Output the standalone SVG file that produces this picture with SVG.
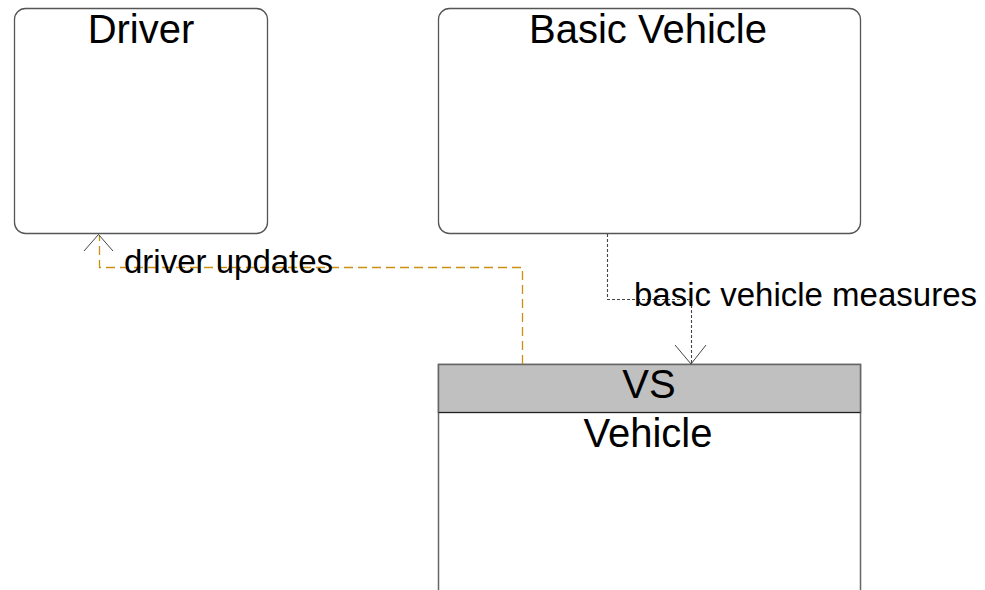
<svg xmlns="http://www.w3.org/2000/svg" width="985" height="590" viewBox="0 0 985 590">
<style>
.box{fill:#fff;stroke:#555;stroke-width:1.3}
.title{font-family:"Liberation Sans",Arial,sans-serif;font-size:40px;fill:#000;text-anchor:middle}
.lbl{font-family:"Liberation Sans",Arial,sans-serif;font-size:33px;fill:#000}
.c1{fill:none;stroke:#cc9010;stroke-width:1.3;stroke-dasharray:9,5}
.c2{fill:none;stroke:#444;stroke-width:1.1;stroke-dasharray:3,2}
.ah{fill:none;stroke:#444;stroke-width:1}
</style>
<rect width="985" height="590" fill="#fff"/>
<g id="driver">
<rect class="box" x="14.5" y="8.5" width="253" height="225" rx="11" ry="11"/>
<text class="title" x="141" y="43">Driver</text>
</g>
<g id="basic-vehicle">
<rect class="box" x="438.5" y="8.5" width="422" height="225" rx="11" ry="11"/>
<text class="title" x="648" y="43">Basic Vehicle</text>
</g>
<g id="vs-vehicle">
<rect x="438.5" y="364.5" width="422" height="240" fill="#fff" stroke="#666" stroke-width="1.5"/>
<rect x="438.5" y="364.5" width="422" height="48" fill="#c0c0c0" stroke="#666" stroke-width="1.5"/>
<line x1="438.5" y1="412.5" x2="860.5" y2="412.5" stroke="#222" stroke-width="1"/>
<text class="title" x="649" y="398">VS</text>
<text class="title" x="648" y="447">Vehicle</text>
</g>
<g id="connectors">
<polyline class="c1" points="522.5,364 522.5,267.5 99.5,267.5 99.5,235"/>
<polyline class="ah" points="84,251 98.5,234.5 113,251"/>
<text class="lbl" x="124" y="273">driver updates</text>
<polyline class="c2" points="607.5,234 607.5,299.5 691.5,299.5 691.5,363"/>
<polyline class="ah" points="675,345 691,364 706,345"/>
<text class="lbl" x="634" y="306">basic vehicle measures</text>
</g>
</svg>
